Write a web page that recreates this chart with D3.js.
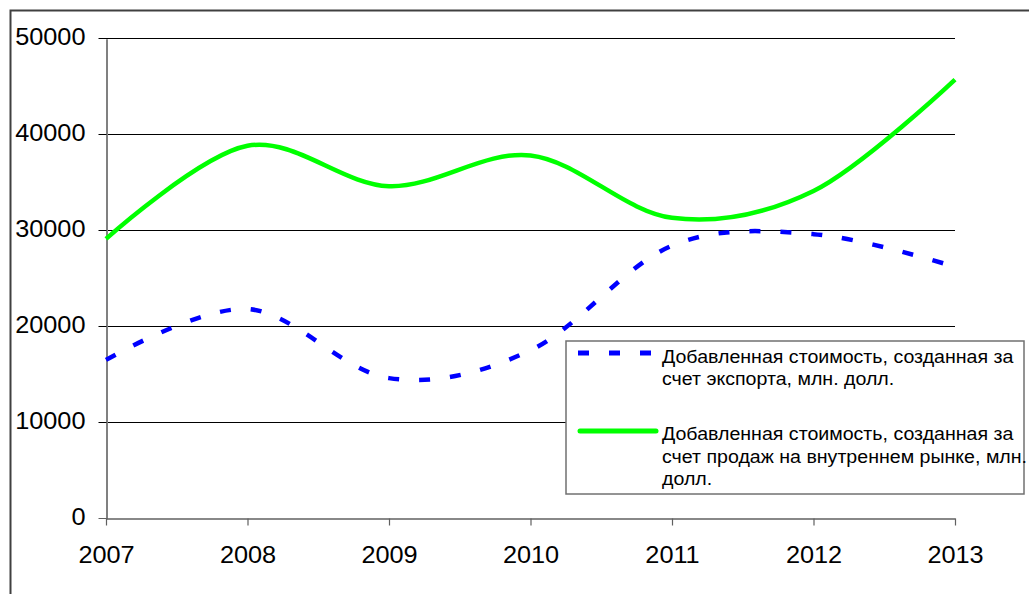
<!DOCTYPE html>
<html>
<head>
<meta charset="utf-8">
<script src="https://cdn.jsdelivr.net/npm/d3@7"></script>
<style>
  html, body { margin: 0; padding: 0; background: #fff; }
  svg { display: block; }
  text { font-family: "Liberation Sans", Arial, sans-serif; fill: #000; }
</style>
</head>
<body>
<svg id="chart" width="1029" height="594"></svg>
<script>
const years = [2007, 2008, 2009, 2010, 2011, 2012, 2013];
const exportValues = [16500, 21800, 14600, 17500, 28400, 29600, 26200];
const domesticValues = [29100, 38800, 34600, 37800, 31300, 34100, 45700];
const yTickValues = [0, 10000, 20000, 30000, 40000, 50000];
const seriesNames = [
  ["Добавленная стоимость, созданная за", "счет экспорта, млн. долл."],
  ["Добавленная стоимость, созданная за", "счет продаж на внутреннем рынке, млн.", "долл."]
];

const svg = d3.select("#chart");
svg.append("rect").attr("width", 1029).attr("height", 594).attr("fill", "#fff");

// outer chart border
svg.append("path")
  .attr("d", "M10.5,594 V10.5 H1029")
  .attr("fill", "none").attr("stroke", "#404040").attr("stroke-width", 2);

const x = d3.scaleLinear().domain([2007, 2013]).range([106, 955]);
const y = d3.scaleLinear().domain([0, 50000]).range([518.3, 38.3]);
const SX = 1.1;

// gridlines
svg.append("g").selectAll("line")
  .data(yTickValues.filter(v => v > 0))
  .join("line")
  .attr("x1", 106).attr("x2", 955)
  .attr("y1", d => Math.round(y(d)) + 0.5).attr("y2", d => Math.round(y(d)) + 0.5)
  .attr("stroke", "#000").attr("stroke-width", 1);

// y axis
const gy = svg.append("g").attr("transform", "translate(106.5,0.5)")
  .call(d3.axisLeft(y).tickValues(yTickValues).tickSizeInner(8).tickSizeOuter(0).tickPadding(13).tickFormat(d3.format("d")));
gy.select(".domain").attr("stroke", "#808080").attr("stroke-width", 2);
gy.selectAll(".tick line").attr("stroke", d => d === 0 ? "#606060" : "#000");
gy.selectAll(".tick")
  .attr("transform", d => `translate(0,${Math.round(y(d))})`);
gy.selectAll(".tick text")
  .attr("font-size", 23).attr("font-family", '"Liberation Sans", Arial, sans-serif')
  .attr("fill", "#000")
  .attr("x", -21 / SX).attr("dy", "0.3em")
  .attr("transform", `scale(${SX},1)`);

// x axis
const gx = svg.append("g").attr("transform", `translate(0,${Math.round(y(0)) + 0.5})`)
  .call(d3.axisBottom(x).tickValues(years).tickSizeInner(7).tickSizeOuter(0).tickFormat(d3.format("d")));
gx.select(".domain").attr("stroke", "#606060").attr("stroke-width", 1.5);
gx.selectAll(".tick line").attr("stroke", "#606060").attr("stroke-width", 1.2);
gx.selectAll(".tick text")
  .attr("font-size", 23).attr("font-family", '"Liberation Sans", Arial, sans-serif')
  .attr("fill", "#000")
  .attr("y", 0).attr("dy", 45)
  .attr("text-anchor", "middle")
  .attr("transform", `scale(${SX},1)`)
  .attr("x", 0);

const line = d3.line()
  .x(d => x(d[0]))
  .y(d => y(d[1]))
  .curve(d3.curveCardinal.tension(0));

const exportPts = years.map((yr, i) => [yr, exportValues[i]]);
const domesticPts = years.map((yr, i) => [yr, domesticValues[i]]);

svg.append("path").datum(exportPts)
  .attr("d", line)
  .attr("fill", "none").attr("stroke", "#0000ff").attr("stroke-width", 4.5)
  .attr("stroke-dasharray", "11,20");

svg.append("path").datum(domesticPts)
  .attr("d", line)
  .attr("fill", "none").attr("stroke", "#00ff00").attr("stroke-width", 4.5)
  .attr("stroke-linejoin", "round");

// legend
const lg = svg.append("g");
lg.append("rect")
  .attr("x", 566).attr("y", 341).attr("width", 458).attr("height", 153)
  .attr("fill", "#fff").attr("stroke", "#707070").attr("stroke-width", 1.5);

lg.append("line")
  .attr("x1", 578).attr("x2", 652).attr("y1", 353).attr("y2", 353)
  .attr("stroke", "#0000ff").attr("stroke-width", 5)
  .attr("stroke-dasharray", "11,20");
lg.append("line")
  .attr("x1", 580).attr("x2", 656).attr("y1", 431).attr("y2", 431)
  .attr("stroke", "#00ff00").attr("stroke-width", 5)
  .attr("stroke-linecap", "round");

const legendBaselines = [[363, 385.5], [440.5, 463, 485.5]];
seriesNames.forEach((lines, i) => {
  const t = lg.append("text")
    .attr("font-size", 17.5)
    .attr("transform", `translate(662,0) scale(1.12,1)`);
  lines.forEach((s, j) => {
    t.append("tspan").attr("x", 0).attr("y", legendBaselines[i][j]).text(s);
  });
});
</script>
</body>
</html>
